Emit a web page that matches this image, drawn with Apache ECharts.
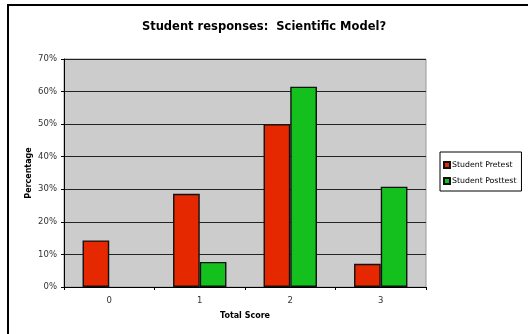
<!DOCTYPE html>
<html>
<head>
<meta charset="utf-8">
<script src="https://cdn.jsdelivr.net/npm/echarts@6/dist/echarts.min.js"></script>
<style>
  html, body { margin: 0; padding: 0; background: #ffffff; }
  #chart { width: 528px; height: 334px; }
</style>
</head>
<body>
<div id="chart"></div>
<script>
// Total score categories
const categories = ['0', '1', '2', '3'];
// Percent of students at each score (null = no bar)
const pretest = [14.3, 28.6, 50.0, 7.1];
const posttest = [null, 7.7, 61.5, 30.8];
const seriesNames = ['Student Pretest', 'Student Posttest'];

const FONT = 'DejaVu Sans, Verdana, sans-serif';

const chart = echarts.init(document.getElementById('chart'), null, { renderer: 'canvas' });

chart.setOption({
  animation: false,
  backgroundColor: '#ffffff',
  textStyle: { fontFamily: FONT },
  title: {
    text: 'Student responses:  Scientific Model?',
    left: 'center',
    top: 16,
    textStyle: { fontFamily: FONT, fontSize: 11.5, fontWeight: 'bold', color: '#000' }
  },
  graphic: [{
    type: 'rect',
    shape: { x: 8, y: 5, width: 540, height: 350 },
    style: { fill: 'none', stroke: '#000', lineWidth: 2 },
    silent: true
  }],
  legend: {
    orient: 'vertical',
    left: 440,
    top: 152,
    itemWidth: 6,
    itemHeight: 6,
    itemGap: 6,
    padding: [8, 5, 5, 3],
    borderColor: '#000',
    borderWidth: 1,
    backgroundColor: '#fff',
    icon: 'rect',
    textStyle: { fontFamily: FONT, fontSize: 7.8, color: '#000', padding: [0, 0, 0, -3], lineHeight: 10 },
    data: seriesNames
  },
  grid: {
    left: 64,
    top: 59,
    width: 362,
    height: 228,
    show: true,
    backgroundColor: '#cccccc',
    borderColor: '#999999',
    borderWidth: 1
  },
  xAxis: {
    type: 'category',
    data: categories,
    name: 'Total Score',
    nameLocation: 'middle',
    nameGap: 25,
    nameMoveOverlap: false,
    nameTextStyle: { fontFamily: FONT, fontSize: 8, fontWeight: 'bold', color: '#000' },
    axisLine: { lineStyle: { color: '#000', width: 1 } },
    axisTick: { show: true, length: 3, lineStyle: { color: '#000' } },
    axisLabel: { fontFamily: FONT, fontSize: 8.5, color: '#333', margin: 9 },
    splitLine: { show: false }
  },
  yAxis: {
    type: 'value',
    min: 0,
    max: 70,
    interval: 10,
    name: 'Percentage',
    nameLocation: 'middle',
    nameGap: 31,
    nameMoveOverlap: false,
    nameTextStyle: { fontFamily: FONT, fontSize: 8, fontWeight: 'bold', color: '#000' },
    axisLine: { show: true, lineStyle: { color: '#000', width: 1 } },
    axisTick: { show: true, length: 3, lineStyle: { color: '#000' } },
    axisLabel: { fontFamily: FONT, fontSize: 8.5, color: '#333', margin: 7, formatter: '{value}%' },
    splitLine: { show: true, lineStyle: { color: '#222', width: 1 } }
  },
  series: [
    {
      name: seriesNames[0],
      type: 'bar',
      data: pretest,
      barGap: '0%',
      barCategoryGap: '41%',
      itemStyle: { color: '#e62800', borderColor: '#111', borderWidth: 1.4 }
    },
    {
      name: seriesNames[1],
      type: 'bar',
      data: posttest,
      barGap: '0%',
      barCategoryGap: '41%',
      itemStyle: { color: '#14c01e', borderColor: '#111', borderWidth: 1.4 }
    }
  ]
});
</script>
</body>
</html>
